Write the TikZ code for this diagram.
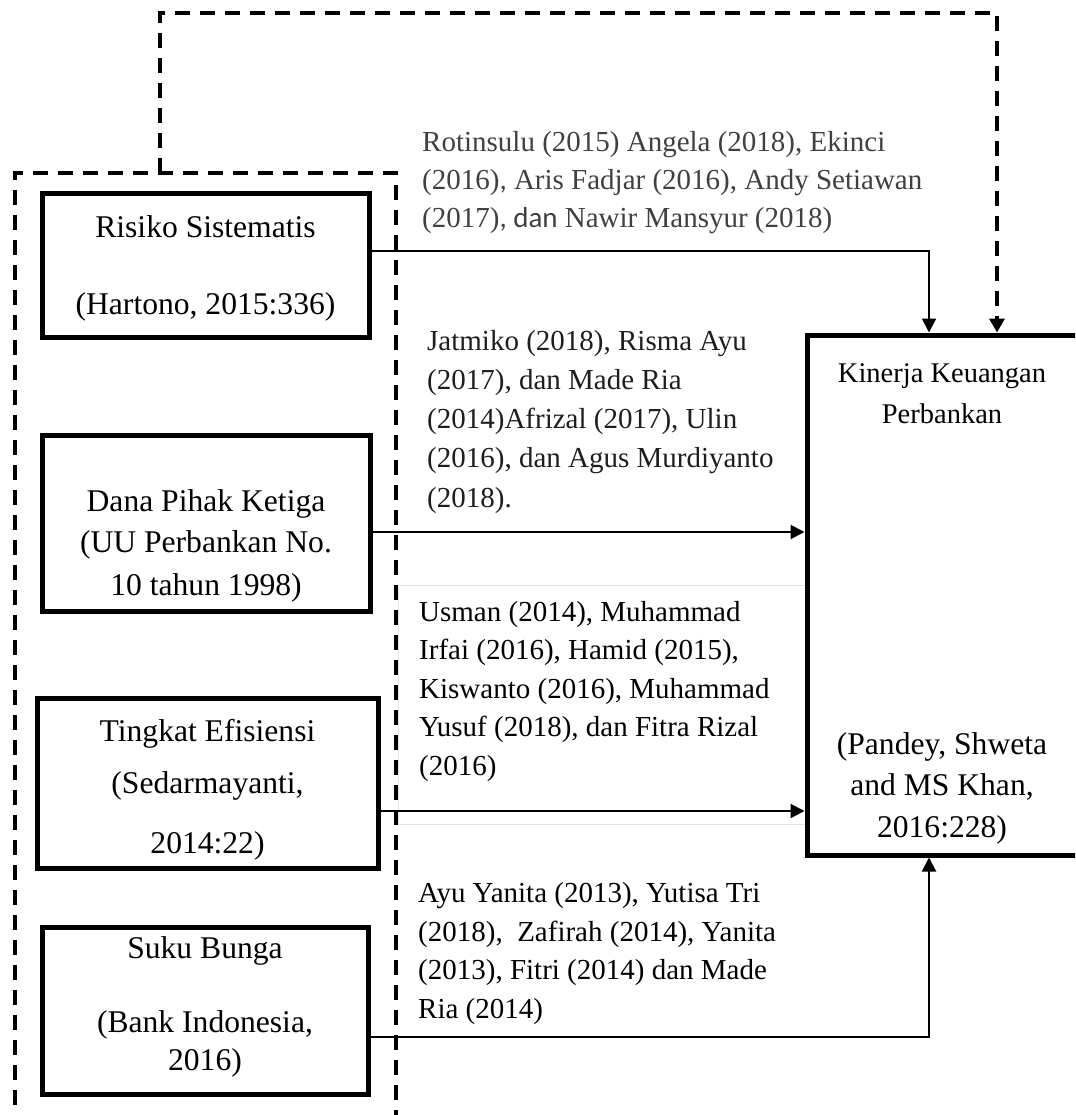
\documentclass[tikz,border=0pt]{standalone}
\usepackage{fontspec}
\setmainfont{Liberation Serif}
\newfontfamily\calfont{Carlito}
\usetikzlibrary{arrows.meta}
\definecolor{citegray}{RGB}{64,64,64}
\definecolor{citedark}{RGB}{30,30,30}
\definecolor{faintline}{RGB}{225,228,215}
\begin{document}
\begin{tikzpicture}[x=1pt,y=-1pt,
  varbox/.style={draw, line width=5pt, rectangle, inner sep=0pt},
  boxtxt/.style={font=\fontsize{31.6}{40}\selectfont, anchor=base, inner sep=0pt},
  kintxt/.style={font=\fontsize{28.5}{36}\selectfont, anchor=base, inner sep=0pt},
  cite/.style={font=\fontsize{29}{38.4}\selectfont, anchor=base west, align=left, inner sep=0pt},
  conn/.style={line width=2pt, -{Triangle[length=14pt,width=14pt]}},
  dashln/.style={line width=4pt, dash pattern=on 15pt off 10pt},
  faint/.style={draw=faintline, line width=1pt}
]
\useasboundingbox (0,0) rectangle (1075,1115);
\clip (0,0) rectangle (1075,1115);

% group of independent variables (dashed, open at bottom)
\draw[dashln] (15,1130) -- (15,173) -- (396,173) -- (396,1130);
\coordinate (grp) at (160,173);
\coordinate (topL) at (160,13);
\coordinate (topR) at (997,13);

% faint text frame
\draw[faint] (398,585) rectangle (808,824);

% variable boxes
\node[varbox, minimum width=327pt, minimum height=143pt] (risiko) at (205.5,265.5) {};
\node[varbox, minimum width=328pt, minimum height=176pt] (dana) at (206,523) {};
\node[varbox, minimum width=341pt, minimum height=170pt] (tingkat) at (207.5,783) {};
\node[varbox, minimum width=326pt, minimum height=167pt] (suku) at (205,1010.5) {};
\node[varbox, minimum width=283pt, minimum height=520pt] (kin) at (948.5,595) {};

% box texts
\node[boxtxt] (r1) at (205.5,237) {Risiko Sistematis};
\node[boxtxt] (r2) at (205.5,314) {(Hartono, 2015:336)};
\node[boxtxt] (d1) at (206,511) {Dana Pihak Ketiga};
\node[boxtxt] (d2) at (206,552) {(UU Perbankan No.};
\node[boxtxt] (d3) at (206,595) {10 tahun 1998)};
\node[boxtxt] (t1) at (207.5,741) {Tingkat Efisiensi};
\node[boxtxt] (t2) at (207.5,793) {(Sedarmayanti,};
\node[boxtxt] (t3) at (207.5,853) {2014:22)};
\node[boxtxt] (s1) at (205,958) {Suku Bunga};
\node[boxtxt] (s2) at (205,1032) {(Bank Indonesia,};
\node[boxtxt] (s3) at (205,1070) {2016)};
\node[kintxt] (k1) at (942,382) {Kinerja Keuangan};
\node[kintxt] (k2) at (942,423) {Perbankan};
\node[boxtxt] (k3) at (942,754) {(Pandey, Shweta};
\node[boxtxt] (k4) at (942,795) {and MS Khan,};
\node[boxtxt] (k5) at (942,837) {2016:228)};

% citation labels (anchored at the baseline of their last line)
\node[cite, text=citegray] (c1) at (422,228) {Rotinsulu (2015) Angela (2018), Ekinci\\(2016){\calfont ,} Aris Fadjar (2016), Andy Setiawan\\(2017){\calfont , dan} Nawir Mansyur (2018)};
\node[cite, text=citedark, font=\fontsize{29}{39.2}\selectfont] (c2) at (427,507) {Jatmiko (2018), Risma Ayu\\(2017), dan Made Ria\\(2014)Afrizal (2017), Ulin\\(2016), dan Agus Murdiyanto\\(2018).};
\node[cite] (c3) at (419,775) {Usman (2014), Muhammad\\Irfai (2016), Hamid (2015),\\Kiswanto (2016), Muhammad\\Yusuf (2018), dan Fitra Rizal\\(2016)};
\node[cite] (c4) at (418,1018) {Ayu Yanita (2013), Yutisa Tri\\(2018),\ \ Zafirah (2014), Yanita\\(2013), Fitri (2014) dan Made\\Ria (2014)};

% connectors
\draw[conn] (risiko.east |- 0,251) -| (kin.north -| 929,0);
\draw[conn] (dana.east |- 0,532) -- (kin.west |- 0,532);
\draw[conn] (tingkat.east |- 0,811) -- (kin.west |- 0,811);
\draw[conn] (suku.east |- 0,1037) -| (kin.south -| 929,0);
\draw[dashln, -{Triangle[length=14pt,width=15pt]}] (grp) -- (topL) -- (topR) -- (topR |- kin.north);
\end{tikzpicture}
\end{document}
